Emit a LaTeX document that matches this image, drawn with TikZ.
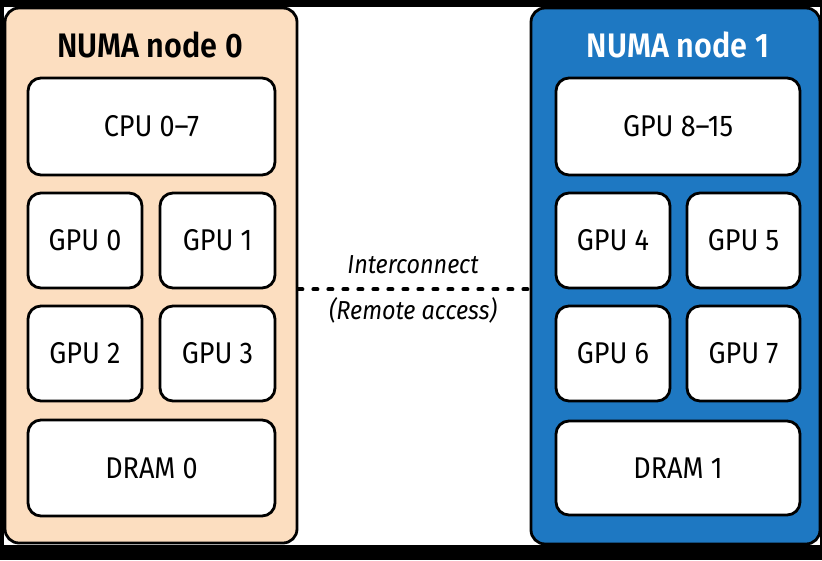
\documentclass[tikz,border=0pt]{standalone}
\usepackage{fontspec}
\setmainfont{Fira Sans}[FakeStretch=0.9,BoldFont={Fira Sans SemiBold},BoldFeatures={FakeStretch=0.9}]
\begin{document}
\begin{tikzpicture}[x=1pt,y=-1pt,
  panel/.style={draw=black,line width=2.8pt,rounded corners=14pt,inner sep=0pt},
  unit/.style={draw=black,line width=2.8pt,fill=white,rounded corners=13pt,inner sep=0pt,font=\fontsize{30}{33}\selectfont},
  title/.style={font=\fontsize{34}{37}\selectfont\bfseries,inner sep=0pt},
  lbl/.style={font=\fontsize{26}{30}\selectfont\itshape,inner sep=0pt},
  link/.style={line width=4pt,dash pattern=on 4pt off 11pt,line cap=round}]
\definecolor{peach}{RGB}{252,222,192}
\definecolor{numablue}{RGB}{30,120,194}
\useasboundingbox (0,0) rectangle (822,560);
\fill[black] (0,0) rectangle (822,560);
\fill[white] (4,7) rectangle (820,545);
% panels
\node[panel,fill=peach,minimum width=292pt,minimum height=535pt] (L) at (151,275.5) {};
\node[panel,fill=numablue,minimum width=289pt,minimum height=536pt] (R) at (675.5,276) {};
\node[title] (tL) at (150,45) {NUMA node 0};
\node[title,text=white] (tR) at (678,45) {NUMA node 1};
% left units
\node[unit,minimum width=247pt,minimum height=97pt] (cpu) at (151.5,126.5) {CPU 0--7};
\node[unit,minimum width=114pt,minimum height=95pt] (g0) at (85,240.5) {GPU 0};
\node[unit,minimum width=115pt,minimum height=95pt] (g1) at (217.5,240.5) {GPU 1};
\node[unit,minimum width=114pt,minimum height=95pt] (g2) at (85,353.5) {GPU 2};
\node[unit,minimum width=115pt,minimum height=95pt] (g3) at (217.5,353.5) {GPU 3};
\node[unit,minimum width=247pt,minimum height=96pt] (d0) at (151.5,468) {DRAM 0};
% right units
\node[unit,minimum width=244pt,minimum height=97pt] (gpuR) at (678,126.5) {GPU 8--15};
\node[unit,minimum width=114pt,minimum height=95pt] (g4) at (613,240.5) {GPU 4};
\node[unit,minimum width=113pt,minimum height=95pt] (g5) at (743.5,240.5) {GPU 5};
\node[unit,minimum width=114pt,minimum height=95pt] (g6) at (613,353.5) {GPU 6};
\node[unit,minimum width=113pt,minimum height=95pt] (g7) at (743.5,353.5) {GPU 7};
\node[unit,minimum width=244pt,minimum height=94pt] (d1) at (678,468) {DRAM 1};
% interconnect
\draw[link] (L.east |- g0.south) -- (R.west |- g0.south);
\node[lbl] (ic) at (413,265) {Interconnect};
\node[lbl] (ra) at (413,310) {(Remote access)};
\end{tikzpicture}
\end{document}
